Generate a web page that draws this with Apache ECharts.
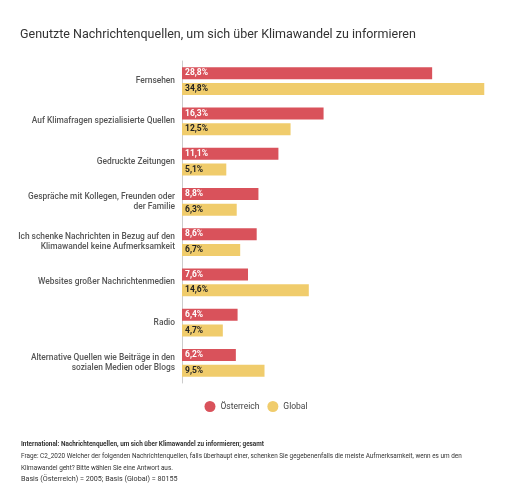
<!DOCTYPE html>
<html>
<head>
<meta charset="utf-8">
<script src="https://cdn.jsdelivr.net/npm/echarts@6/dist/echarts.min.js"></script>
<style>
  html, body { margin: 0; padding: 0; background: #fff; }
  #chart { width: 512px; height: 490px; }
</style>
</head>
<body>
<div id="chart"></div>
<script>
// Kategorien (von oben nach unten)
const categories = [
    'Fernsehen',
    'Auf Klimafragen spezialisierte Quellen',
    'Gedruckte Zeitungen',
    'Gespräche mit Kollegen, Freunden oder\nder Familie',
    'Ich schenke Nachrichten in Bezug auf den\nKlimawandel keine Aufmerksamkeit',
    'Websites großer Nachrichtenmedien',
    'Radio',
    'Alternative Quellen wie Beiträge in den\nsozialen Medien oder Blogs'
];
const oesterreich = [28.8, 16.3, 11.1, 8.8, 8.6, 7.6, 6.4, 6.2];
const global = [34.8, 12.5, 5.1, 6.3, 6.7, 14.6, 4.7, 9.5];

const footnotes = [
    'International: Nachrichtenquellen, um sich über Klimawandel zu informieren; gesamt',
    'Frage: C2_2020 Welcher der folgenden Nachrichtenquellen, falls überhaupt einer, schenken Sie gegebenenfalls die meiste Aufmerksamkeit, wenn es um den',
    'Klimawandel geht? Bitte wählen Sie eine Antwort aus.',
    'Basis (Österreich) = 2005; Basis (Global) = 80155'
];

let myChart = echarts.init(document.getElementById('chart'));

function pct(p) {
    return p.value.toFixed(1).replace('.', ',') + '%';
}

let option = {
    textStyle: { fontFamily: 'Roboto' },
    title: [
        {
            text: 'Genutzte Nachrichtenquellen, um sich über Klimawandel zu informieren',
            left: 15,
            top: 23,
            textStyle: { fontSize: 12.5, fontWeight: 'normal', color: '#333' }
        },
        {
            text: footnotes[0],
            left: 16, top: 436,
            textStyle: { fontSize: 6.4, fontWeight: 'bold', color: '#333' }
        },
        {
            text: footnotes[1],
            left: 16, top: 448,
            textStyle: { fontSize: 6.4, fontWeight: 'normal', color: '#333' }
        },
        {
            text: footnotes[2],
            left: 16, top: 460,
            textStyle: { fontSize: 6.4, fontWeight: 'normal', color: '#333' }
        },
        {
            text: footnotes[3],
            left: 16, top: 471,
            textStyle: { fontSize: 7.2, fontWeight: 'normal', color: '#333' }
        }
    ],
    legend: {
        top: 396,
        left: 'center',
        icon: 'circle',
        itemWidth: 11,
        itemHeight: 11,
        itemGap: 8,
        textStyle: { fontSize: 8.5, color: '#444' },
        data: ['Österreich', 'Global']
    },
    grid: {
        left: 182,
        right: 26,
        top: 61,
        height: 322
    },
    xAxis: {
        type: 'value',
        min: 0,
        max: 35,
        show: false
    },
    yAxis: {
        type: 'category',
        inverse: true,
        data: categories,
        axisLine: { show: true, lineStyle: { color: '#ccc', width: 1 } },
        axisTick: { show: false },
        axisLabel: {
            fontSize: 8.4,
            color: '#555',
            fontWeight: 500,
            lineHeight: 10,
            margin: 7
        }
    },
    series: [
        {
            name: 'Österreich',
            type: 'bar',
            data: oesterreich,
            barWidth: 12,
            barGap: '33%',
            itemStyle: { color: '#d9525b' },
            label: {
                show: true,
                position: 'insideLeft',
                offset: [-2, 0],
                formatter: pct,
                color: '#fff',
                fontSize: 8.5,
                fontWeight: 'bold'
            }
        },
        {
            name: 'Global',
            type: 'bar',
            data: global,
            barWidth: 12,
            itemStyle: { color: '#f0cc6c' },
            label: {
                show: true,
                position: 'insideLeft',
                offset: [-2, 0],
                formatter: pct,
                color: '#222',
                fontSize: 8.5,
                fontWeight: 'bold'
            }
        }
    ],
    animation: false
};

myChart.setOption(option);
window.addEventListener('resize', () => {
    myChart.resize();
});
</script>
</body>
</html>
